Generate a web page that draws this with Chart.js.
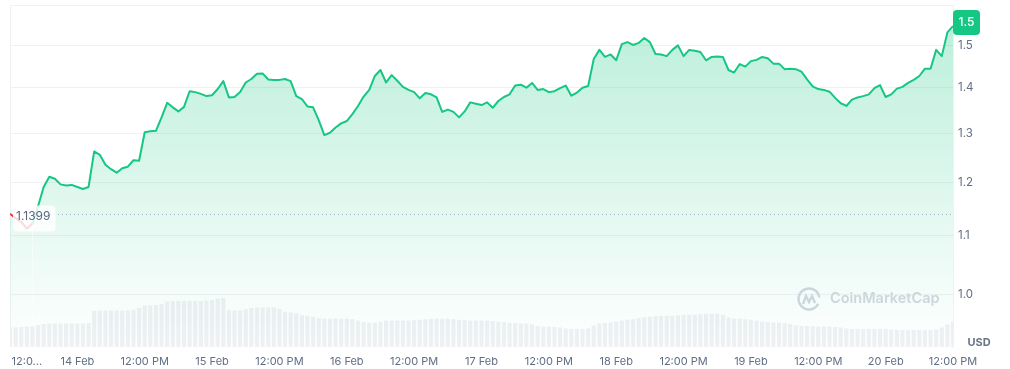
<!DOCTYPE html>
<html>
<head>
<meta charset="utf-8">
<script src="https://cdn.jsdelivr.net/npm/chart.js@4.4.1/dist/chart.umd.min.js"></script>
<style>
    html, body { margin: 0; padding: 0; background: #fff; }
    #wrap { width: 1010px; height: 369px; position: relative; }
</style>
</head>
<body>
<div id="wrap"><canvas id="price-chart"></canvas></div>
<script>
// Hourly samples, hour 0 = 13 Feb 12:00 PM
const prices = [
    1.1399, 1.132, 1.125, 1.113, 1.122,
    1.154, 1.191, 1.211, 1.207, 1.196,
    1.194, 1.195, 1.191, 1.187, 1.191,
    1.262, 1.255, 1.235, 1.226, 1.219,
    1.228, 1.231, 1.244, 1.243, 1.302,
    1.304, 1.305, 1.334, 1.366, 1.356,
    1.347, 1.357, 1.392, 1.390, 1.386,
    1.381, 1.383, 1.397, 1.415, 1.378,
    1.379, 1.390, 1.412, 1.420, 1.432,
    1.433, 1.419, 1.418, 1.418, 1.420,
    1.415, 1.381, 1.374, 1.358, 1.356,
    1.328, 1.296, 1.301, 1.312, 1.321,
    1.326, 1.341, 1.359, 1.380, 1.395,
    1.427, 1.441, 1.412, 1.429, 1.416,
    1.402, 1.395, 1.390, 1.376, 1.388,
    1.385, 1.378, 1.346, 1.351, 1.346,
    1.334, 1.347, 1.367, 1.364, 1.361,
    1.367, 1.355, 1.370, 1.379, 1.385,
    1.405, 1.407, 1.400, 1.411, 1.395,
    1.397, 1.390, 1.392, 1.399, 1.405,
    1.382, 1.389, 1.400, 1.404, 1.467,
    1.489, 1.472, 1.478, 1.464, 1.503,
    1.508, 1.501, 1.506, 1.518, 1.508,
    1.479, 1.478, 1.474, 1.489, 1.500,
    1.474, 1.489, 1.487, 1.484, 1.464,
    1.472, 1.473, 1.472, 1.441, 1.435,
    1.455, 1.449, 1.462, 1.465, 1.472,
    1.469, 1.456, 1.456, 1.443, 1.444,
    1.443, 1.437, 1.419, 1.403, 1.397,
    1.395, 1.391, 1.377, 1.365, 1.359,
    1.373, 1.378, 1.381, 1.385, 1.399,
    1.406, 1.379, 1.385, 1.398, 1.402,
    1.411, 1.418, 1.427, 1.444, 1.444,
    1.489, 1.474, 1.532, 1.548
];

// Volume (relative units, same hourly grid)
const volumes = [
    20, 20, 20.5, 21, 21, 22.5,
    23.5, 24, 24, 24, 24, 24, 24, 24, 24.5,
    37, 37.5, 37.5, 37.5, 37.5, 37.5, 37.5, 38, 40,
    42.5, 42.5, 43, 44,
    46.5, 47, 47, 47, 47, 47, 47, 47.5, 48,
    49.5, 50,
    38, 37.5, 37.5, 38.5,
    40, 40.5, 40.5, 40.5, 40.5, 39,
    36, 35.5, 34.5,
    32.5, 32, 31,
    29.5, 29, 29, 29, 29, 29, 28.5, 27,
    25.5, 25, 25, 26,
    27, 27, 27, 27, 27, 27.5, 28, 28.5,
    29, 29, 29, 29, 28.5, 28,
    27.5, 27, 27, 27, 27, 26.5, 26, 25.5,
    24.5, 24.5, 24, 24, 23,
    21.5, 21, 21, 20.5, 20,
    19, 18.5, 18.5, 18.5, 19,
    22, 24, 24.5, 25, 26,
    27, 28, 28.5, 29.5,
    30.5, 31, 31.5, 32, 32, 32,
    32.5, 33, 33, 33, 33.5,
    34, 34, 34, 33,
    30, 29, 29, 28.5, 28, 27,
    26, 25.5, 25, 25, 24.5, 23.5,
    22, 21.5, 21.5, 21, 21, 21, 21, 20.5, 20,
    19, 18.5, 18.5, 18.5, 18.5, 18.5, 18.5, 18.5, 18,
    17.5, 17.5, 17.5, 17.5, 17.5, 17.5, 17.5, 18,
    20, 23, 26
];

const basePrice = 1.1399;

const xTickHours = [3, 12, 24, 36, 48, 60, 72, 84, 96, 108, 120, 132, 144, 156, 168];
const xTickLabels = ['12:0...', '14 Feb', '12:00 PM', '15 Feb', '12:00 PM', '16 Feb', '12:00 PM',
    '17 Feb', '12:00 PM', '18 Feb', '12:00 PM', '19 Feb', '12:00 PM', '20 Feb', '12:00 PM'];
const yTickValues = [1.0, 1.1, 1.2, 1.3, 1.4, 1.5];

const GREEN = '#16c784';
const RED = '#ea3943';
const GRID = '#eff2f5';
const TEXT = '#616e85';
const FONT = 'Inter, "Noto Sans", sans-serif';

const priceData = prices.map((p, i) => ({ x: i, y: p }));
const volumeData = volumes.map((v, i) => ({ x: i, y: v }));

function roundRect(ctx, x, y, w, h, r) {
    ctx.beginPath();
    ctx.moveTo(x + r, y);
    ctx.arcTo(x + w, y, x + w, y + h, r);
    ctx.arcTo(x + w, y + h, x, y + h, r);
    ctx.arcTo(x, y + h, x, y, r);
    ctx.arcTo(x, y, x + w, y, r);
    ctx.closePath();
}

// frame, watermark, baseline, labels
const cmcDecor = {
    id: 'cmcDecor',
    beforeDatasetsDraw(chart) {
        const { ctx, chartArea: a } = chart;
        ctx.save();
        ctx.strokeStyle = GRID;
        ctx.lineWidth = 1;
        ctx.beginPath();
        ctx.moveTo(a.left + 0.5, a.bottom);
        ctx.lineTo(a.left + 0.5, a.top + 0.5);
        ctx.lineTo(a.right, a.top + 0.5);
        ctx.stroke();

        // watermark
        const wx = a.right - 144, wy = a.bottom - 48;
        ctx.strokeStyle = '#d3d8e0';
        ctx.lineWidth = 2.4;
        ctx.beginPath();
        ctx.arc(wx, wy, 10.5, Math.PI * 0.15, Math.PI * 1.95);
        ctx.stroke();
        ctx.beginPath();
        ctx.moveTo(wx - 6, wy + 5);
        ctx.lineTo(wx - 3, wy - 3);
        ctx.lineTo(wx, wy + 3);
        ctx.lineTo(wx + 3, wy - 3);
        ctx.lineTo(wx + 6, wy + 4);
        ctx.stroke();
        ctx.fillStyle = '#d3d8e0';
        ctx.font = '600 14.5px ' + FONT;
        ctx.textBaseline = 'middle';
        ctx.textAlign = 'left';
        ctx.fillText('CoinMarketCap', wx + 21, wy);
        ctx.restore();
    },
    afterDatasetsDraw(chart) {
        const { ctx, chartArea: a, scales } = chart;
        const yb = Math.round(scales.y.getPixelForValue(basePrice)) + 0.5;
        ctx.save();
        // dotted baseline
        ctx.strokeStyle = '#a7b1c2';
        ctx.lineWidth = 1;
        ctx.setLineDash([1, 3]);
        ctx.beginPath();
        ctx.moveTo(a.left + 40, yb);
        ctx.lineTo(a.right, yb);
        ctx.stroke();
        ctx.setLineDash([]);

        // base price label
        ctx.font = '12px ' + FONT;
        const bt = basePrice.toFixed(4);
        const bw = ctx.measureText(bt).width;
        ctx.fillStyle = 'rgba(255,255,255,0.82)';
        roundRect(ctx, a.left + 3, yb - 9, bw + 8, 26, 4);
        ctx.fill();
        ctx.fillStyle = '#58667e';
        ctx.textBaseline = 'middle';
        ctx.textAlign = 'left';
        ctx.fillText(bt, a.left + 6, yb + 1.5);

        // last price badge
        const last = prices[prices.length - 1];
        const yl = scales.y.getPixelForValue(last);
        const top = Math.max(a.top + 5, yl - 16);
        ctx.fillStyle = GREEN;
        roundRect(ctx, a.right, top, 27, 25, 4);
        ctx.fill();
        ctx.fillStyle = '#fff';
        ctx.font = '500 12px ' + FONT;
        ctx.textAlign = 'center';
        ctx.fillText(last.toFixed(1), a.right + 13.5, top + 12.5);

        // currency
        ctx.fillStyle = '#6b7588';
        ctx.font = 'bold 11px ' + FONT;
        ctx.textAlign = 'center';
        ctx.fillText('USD', a.right + 26, a.bottom - 4);
        ctx.restore();
    }
};

const ctxPrice = document.getElementById('price-chart').getContext('2d');
new Chart(ctxPrice, {
    type: 'line',
    data: {
        datasets: [
            {
                type: 'line',
                label: 'Price',
                data: priceData,
                yAxisID: 'y',
                order: 1,
                borderColor: GREEN,
                borderWidth: 2,
                borderJoinStyle: 'round',
                pointRadius: 0,
                tension: 0,
                fill: 'start',
                backgroundColor(c) {
                    const { chart } = c;
                    const a = chart.chartArea;
                    if (!a) return 'rgba(22,199,132,0.1)';
                    const g = chart.ctx.createLinearGradient(0, a.top, 0, a.bottom);
                    g.addColorStop(0, 'rgba(22,199,132,0.30)');
                    g.addColorStop(1, 'rgba(22,199,132,0.0)');
                    return g;
                },
                segment: {
                    borderColor: s => s.p1.parsed.y < basePrice ? RED : GREEN
                }
            },
            {
                type: 'bar',
                label: 'Volume',
                data: volumeData,
                yAxisID: 'vol',
                order: 2,
                backgroundColor: '#eff1f4',
                categoryPercentage: 1,
                barPercentage: 0.75
            }
        ]
    },
    options: {
        responsive: true,
        maintainAspectRatio: false,
        animation: false,
        layout: { padding: { left: 10, top: 5, right: 0, bottom: 0 } },
        plugins: { legend: { display: false }, tooltip: { enabled: false } },
        scales: {
            x: {
                type: 'linear',
                min: 0,
                max: 168,
                offset: false,
                grid: { display: false, drawTicks: false },
                border: { display: false },
                afterBuildTicks(scale) {
                    scale.ticks = xTickHours.map(v => ({ value: v }));
                },
                afterFit(scale) {
                    scale.height = 22;
                    scale.paddingLeft = 0;
                    scale.paddingRight = 0;
                },
                ticks: {
                    autoSkip: false,
                    maxRotation: 0,
                    padding: 8,
                    color: TEXT,
                    font: { family: FONT, size: 11 },
                    callback: (v, i) => xTickLabels[i]
                }
            },
            y: {
                type: 'logarithmic',
                position: 'right',
                min: 0.9176,
                max: 1.602,
                grid: { color: GRID, drawTicks: false },
                border: { display: true, color: GRID },
                afterBuildTicks(scale) {
                    scale.ticks = yTickValues.map(v => ({ value: v }));
                },
                afterFit(scale) {
                    scale.width = 57;
                    scale.paddingTop = 0;
                    scale.paddingBottom = 0;
                },
                ticks: {
                    padding: 5,
                    color: TEXT,
                    font: { family: FONT, size: 11.5 },
                    callback: v => Number(v).toFixed(1)
                }
            },
            vol: {
                type: 'linear',
                display: false,
                min: 0,
                max: 350,
                afterFit(scale) { scale.paddingTop = 0; scale.paddingBottom = 0; }
            }
        }
    },
    plugins: [cmcDecor]
});
</script>
</body>
</html>
